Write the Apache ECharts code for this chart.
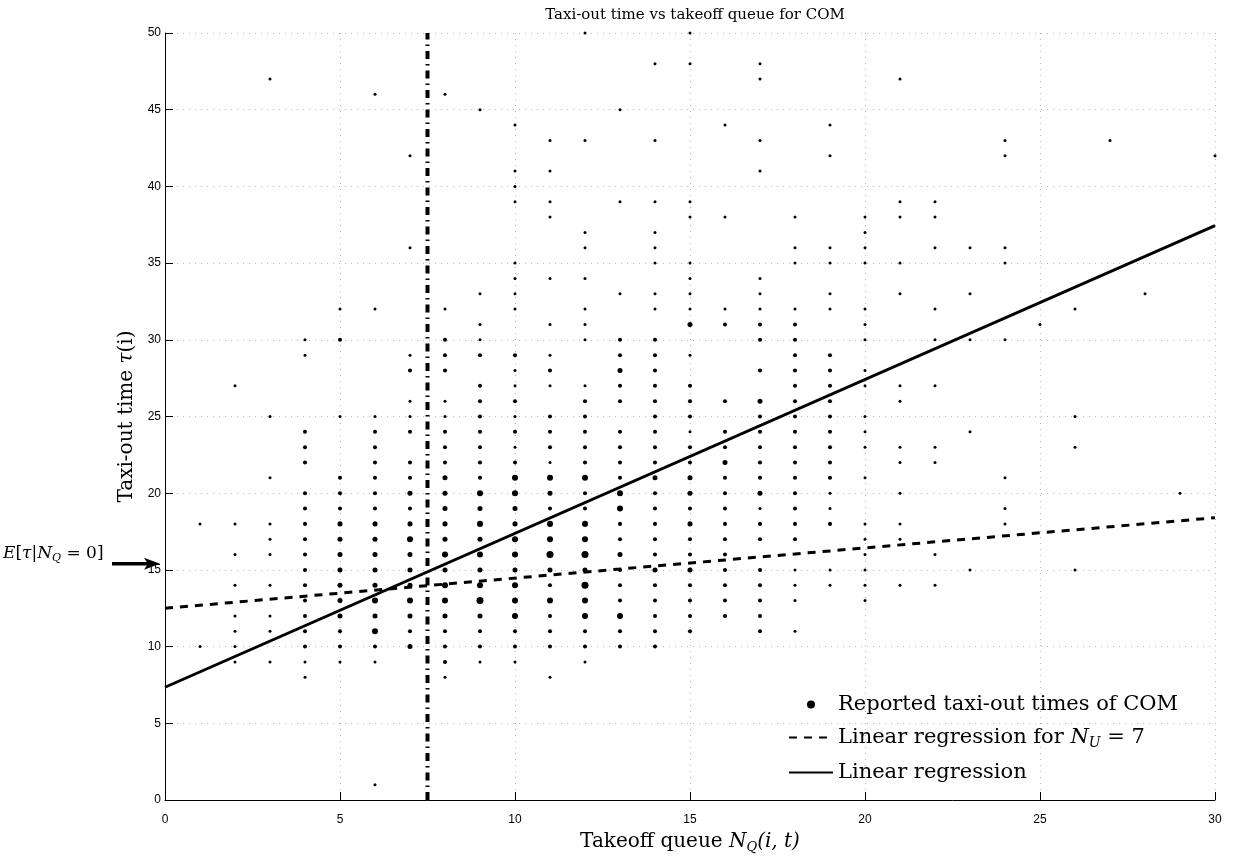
<!DOCTYPE html>
<html>
<head>
<meta charset="utf-8">
<script src="https://cdn.jsdelivr.net/npm/echarts@6/dist/echarts.min.js"></script>
<style>
html, body { margin: 0; padding: 0; background: #fff; }
#chart { width: 1233px; height: 859px; }
</style>
</head>
<body>
<div id="chart"></div>
<script>
// reported taxi-out times: [takeoff queue, taxi-out time (min), number of flights]
const reported = [
  [1, 18, 1], [1, 10, 1],
  [2, 27, 1], [2, 18, 1], [2, 16, 1], [2, 14, 1], [2, 12, 1], [2, 11, 1], [2, 10, 1], [2, 9, 1],
  [3, 47, 1], [3, 25, 1], [3, 21, 1], [3, 18, 1], [3, 17, 1], [3, 16, 1], [3, 14, 1], [3, 12, 1], [3, 11, 1], [3, 9, 1],
  [4, 30, 1], [4, 29, 1], [4, 24, 3], [4, 23, 3], [4, 22, 3], [4, 20, 3], [4, 19, 3], [4, 18, 3], [4, 17, 3],
  [4, 16, 3], [4, 15, 3], [4, 14, 3], [4, 13, 3], [4, 12, 3], [4, 11, 3], [4, 10, 3], [4, 9, 1], [4, 8, 1],
  [5, 32, 1], [5, 30, 3], [5, 25, 1], [5, 21, 3], [5, 20, 3], [5, 19, 3], [5, 18, 6], [5, 17, 6], [5, 16, 6],
  [5, 15, 6], [5, 14, 6], [5, 13, 6], [5, 12, 6], [5, 11, 3], [5, 10, 3], [5, 9, 1],
  [6, 46, 1], [6, 32, 1], [6, 25, 1], [6, 24, 3], [6, 23, 3], [6, 22, 3], [6, 21, 3], [6, 20, 3], [6, 19, 3],
  [6, 18, 6], [6, 17, 6], [6, 16, 6], [6, 15, 6], [6, 14, 6], [6, 13, 10], [6, 12, 6], [6, 11, 10], [6, 10, 3],
  [6, 9, 1], [6, 1, 1],
  [7, 42, 1], [7, 36, 1], [7, 29, 1], [7, 28, 3], [7, 26, 1], [7, 25, 1], [7, 24, 3], [7, 22, 3], [7, 21, 3],
  [7, 20, 6], [7, 19, 3], [7, 18, 6], [7, 17, 10], [7, 16, 6], [7, 15, 6], [7, 14, 6], [7, 13, 10], [7, 12, 6],
  [7, 11, 3], [7, 10, 6],
  [8, 46, 1], [8, 32, 1], [8, 30, 3], [8, 29, 3], [8, 28, 3], [8, 26, 1], [8, 25, 1], [8, 24, 3], [8, 23, 3],
  [8, 22, 3], [8, 21, 6], [8, 20, 6], [8, 19, 6], [8, 18, 6], [8, 17, 6], [8, 16, 10], [8, 15, 6], [8, 14, 10],
  [8, 13, 10], [8, 12, 6], [8, 11, 3], [8, 10, 3], [8, 9, 3], [8, 8, 1],
  [9, 45, 1], [9, 33, 1], [9, 31, 1], [9, 30, 1], [9, 29, 3], [9, 27, 3], [9, 26, 3], [9, 25, 3], [9, 24, 3],
  [9, 23, 3], [9, 22, 3], [9, 21, 3], [9, 20, 10], [9, 19, 6], [9, 18, 10], [9, 17, 6], [9, 16, 10], [9, 15, 6],
  [9, 14, 10], [9, 13, 15], [9, 12, 6], [9, 11, 3], [9, 10, 3], [9, 9, 1],
  [10, 44, 1], [10, 41, 1], [10, 40, 1], [10, 39, 1], [10, 35, 1], [10, 34, 1], [10, 33, 1], [10, 32, 1],
  [10, 29, 3], [10, 28, 1], [10, 27, 1], [10, 26, 3], [10, 25, 1], [10, 24, 3], [10, 23, 1], [10, 22, 3],
  [10, 21, 10], [10, 20, 10], [10, 19, 6], [10, 18, 6], [10, 17, 10], [10, 16, 10], [10, 15, 6], [10, 14, 10],
  [10, 13, 10], [10, 12, 10], [10, 11, 3], [10, 10, 3], [10, 9, 1],
  [11, 43, 1], [11, 41, 1], [11, 39, 1], [11, 38, 1], [11, 34, 1], [11, 31, 1], [11, 29, 1], [11, 28, 3],
  [11, 27, 1], [11, 25, 3], [11, 24, 3], [11, 23, 3], [11, 22, 1], [11, 21, 10], [11, 20, 6], [11, 19, 3],
  [11, 18, 10], [11, 17, 10], [11, 16, 15], [11, 15, 6], [11, 14, 3], [11, 13, 10], [11, 12, 3], [11, 11, 3],
  [11, 10, 3], [11, 8, 1],
  [12, 50, 1], [12, 43, 1], [12, 37, 1], [12, 36, 1], [12, 34, 1], [12, 32, 1], [12, 31, 1], [12, 30, 1],
  [12, 27, 1], [12, 26, 3], [12, 25, 3], [12, 24, 3], [12, 23, 3], [12, 22, 3], [12, 21, 10], [12, 20, 3],
  [12, 19, 3], [12, 18, 10], [12, 17, 10], [12, 16, 15], [12, 15, 6], [12, 14, 15], [12, 13, 10], [12, 12, 10],
  [12, 11, 3], [12, 10, 3], [12, 9, 1],
  [13, 45, 1], [13, 39, 1], [13, 33, 1], [13, 30, 3], [13, 29, 3], [13, 28, 6], [13, 27, 3], [13, 26, 3],
  [13, 24, 3], [13, 23, 3], [13, 22, 3], [13, 21, 3], [13, 20, 10], [13, 19, 10], [13, 18, 3], [13, 17, 3],
  [13, 16, 6], [13, 15, 3], [13, 14, 3], [13, 13, 3], [13, 12, 10], [13, 11, 3], [13, 10, 3],
  [14, 48, 1], [14, 43, 1], [14, 39, 1], [14, 37, 1], [14, 36, 1], [14, 35, 1], [14, 33, 1], [14, 32, 1],
  [14, 30, 3], [14, 29, 3], [14, 28, 3], [14, 27, 3], [14, 26, 3], [14, 25, 3], [14, 24, 3], [14, 23, 3],
  [14, 22, 3], [14, 21, 6], [14, 20, 3], [14, 19, 3], [14, 18, 3], [14, 17, 3], [14, 16, 3], [14, 15, 6],
  [14, 14, 3], [14, 13, 3], [14, 12, 3], [14, 11, 3], [14, 10, 3],
  [15, 50, 1], [15, 48, 1], [15, 39, 1], [15, 38, 1], [15, 35, 1], [15, 34, 1], [15, 33, 1], [15, 32, 1],
  [15, 31, 6], [15, 29, 1], [15, 27, 3], [15, 26, 3], [15, 25, 3], [15, 24, 1], [15, 23, 3], [15, 22, 3],
  [15, 21, 6], [15, 20, 6], [15, 19, 3], [15, 18, 6], [15, 17, 3], [15, 16, 3], [15, 15, 6], [15, 14, 3],
  [15, 13, 3], [15, 12, 3], [15, 11, 3],
  [16, 44, 1], [16, 38, 1], [16, 32, 1], [16, 31, 3], [16, 26, 3], [16, 24, 3], [16, 23, 3], [16, 22, 6],
  [16, 21, 3], [16, 20, 3], [16, 19, 3], [16, 18, 3], [16, 17, 3], [16, 16, 3], [16, 15, 3], [16, 14, 3],
  [16, 13, 3], [16, 12, 3],
  [17, 48, 1], [17, 47, 1], [17, 43, 1], [17, 41, 1], [17, 34, 1], [17, 33, 1], [17, 32, 1], [17, 31, 3],
  [17, 30, 3], [17, 28, 3], [17, 26, 6], [17, 25, 3], [17, 24, 3], [17, 23, 3], [17, 22, 3], [17, 21, 3],
  [17, 20, 6], [17, 19, 1], [17, 18, 3], [17, 17, 3], [17, 15, 3], [17, 14, 3], [17, 13, 3], [17, 12, 3],
  [17, 11, 3],
  [18, 38, 1], [18, 36, 1], [18, 35, 1], [18, 32, 1], [18, 31, 3], [18, 30, 3], [18, 29, 3], [18, 28, 3],
  [18, 27, 3], [18, 26, 3], [18, 25, 3], [18, 24, 3], [18, 23, 3], [18, 22, 3], [18, 21, 3], [18, 20, 3],
  [18, 19, 3], [18, 18, 3], [18, 17, 3], [18, 15, 1], [18, 14, 1], [18, 13, 1], [18, 11, 1],
  [19, 44, 1], [19, 42, 1], [19, 36, 1], [19, 35, 1], [19, 33, 1], [19, 32, 1], [19, 29, 3], [19, 28, 3],
  [19, 27, 3], [19, 26, 3], [19, 25, 3], [19, 24, 3], [19, 23, 3], [19, 22, 3], [19, 21, 3], [19, 20, 1],
  [19, 19, 1], [19, 18, 3], [19, 15, 1], [19, 14, 1],
  [20, 38, 1], [20, 37, 1], [20, 36, 1], [20, 35, 1], [20, 32, 1], [20, 31, 1], [20, 30, 1], [20, 28, 1],
  [20, 27, 1], [20, 25, 1], [20, 24, 1], [20, 23, 1], [20, 21, 1], [20, 18, 1], [20, 17, 1], [20, 16, 1],
  [20, 15, 1], [20, 14, 1], [20, 13, 1],
  [21, 47, 1], [21, 39, 1], [21, 38, 1], [21, 35, 1], [21, 33, 1], [21, 27, 1], [21, 26, 1], [21, 23, 1],
  [21, 22, 1], [21, 20, 1], [21, 18, 1], [21, 17, 1], [21, 14, 1],
  [22, 39, 1], [22, 38, 1], [22, 36, 1], [22, 32, 1], [22, 30, 1], [22, 27, 1], [22, 23, 1], [22, 22, 1],
  [22, 16, 1], [22, 14, 1],
  [23, 36, 1], [23, 33, 1], [23, 30, 1], [23, 24, 1], [23, 15, 1],
  [24, 43, 1], [24, 42, 1], [24, 36, 1], [24, 35, 1], [24, 30, 1], [24, 21, 1], [24, 19, 1], [24, 18, 1],
  [25, 31, 1],
  [26, 32, 1], [26, 25, 1], [26, 23, 1], [26, 15, 1],
  [27, 43, 1], [28, 33, 1], [29, 20, 1], [30, 42, 1]
];

// fitted lines, read at the two ends of the axis
const fitU7 = [[0, 12.5], [30, 18.4]];
const fitAll = [[0, 7.35], [30, 37.45]];
// vertical marker at N_Q = 7.5
const queueMark = [[7.5, 0], [7.5, 50]];

const names = ['Reported taxi-out times of COM', 'Linear regression for N_U = 7', 'Linear regression'];

const serif = 'DejaVu Serif';
const sans = 'Liberation Sans';
const noSymbol = { color: 'rgba(0,0,0,0)', borderWidth: 0 };

const myChart = echarts.init(document.getElementById('chart'));

const option = {
  animation: false,
  backgroundColor: '#fff',
  title: {
    text: 'Taxi-out time vs takeoff queue for COM',
    left: 690,
    textAlign: 'center',
    top: 3,
    textStyle: { fontFamily: serif, fontSize: 15, fontWeight: 'normal', color: '#000' }
  },
  grid: { left: 165, right: 18, top: 33, bottom: 52 },
  legend: {
    orient: 'vertical',
    left: 783,
    top: 689,
    itemWidth: 44,
    itemHeight: 8,
    itemGap: 12,
    data: [
      { name: names[0] },
      { name: names[1], itemStyle: noSymbol },
      { name: names[2], itemStyle: noSymbol }
    ],
    textStyle: {
      fontFamily: serif, fontSize: 21, color: '#000',
      rich: {
        it: { fontFamily: serif, fontSize: 21, fontStyle: 'italic', color: '#000' },
        sub: { fontFamily: serif, fontSize: 14, fontStyle: 'italic', color: '#000', padding: [11, 0, 0, 0] }
      }
    },
    formatter: function (name) {
      if (name === names[1]) return 'Linear regression for {it|N}{sub|U} = 7';
      return name;
    }
  },
  xAxis: {
    type: 'value',
    min: 0, max: 30, interval: 5,
    name: 'Takeoff queue {it|N}{sub|Q}{it|(i, t)}',
    nameLocation: 'middle',
    nameGap: 30,
    nameTextStyle: {
      fontFamily: serif, fontSize: 20, color: '#000',
      rich: {
        it: { fontFamily: serif, fontSize: 20, fontStyle: 'italic', color: '#000' },
        sub: { fontFamily: serif, fontSize: 13, fontStyle: 'italic', color: '#000', padding: [11, 0, 0, 0] }
      }
    },
    axisLine: { onZero: false, lineStyle: { color: '#000', width: 1 } },
    axisTick: { inside: true, length: 8, lineStyle: { color: '#000' } },
    axisLabel: { fontFamily: sans, fontSize: 12, color: '#000', margin: 14 },
    splitLine: { show: true, lineStyle: { color: '#b4b4b4', type: [1, 5], width: 1 } }
  },
  yAxis: {
    type: 'value',
    min: 0, max: 50, interval: 5,
    name: 'Taxi-out time {it|τ}(i)',
    nameLocation: 'middle',
    nameGap: 28,
    nameTextStyle: {
      fontFamily: serif, fontSize: 20, color: '#000',
      rich: {
        it: { fontFamily: serif, fontSize: 20, fontStyle: 'italic', color: '#000' }
      }
    },
    axisLine: { onZero: false, lineStyle: { color: '#000', width: 1 } },
    axisTick: { inside: true, length: 8, lineStyle: { color: '#000' } },
    axisLabel: { fontFamily: sans, fontSize: 12, color: '#000', margin: 4 },
    splitLine: { show: true, lineStyle: { color: '#b4b4b4', type: [1, 5], width: 1 } }
  },
  series: [
    {
      name: names[0],
      type: 'scatter',
      data: reported,
      symbol: 'circle',
      symbolSize: function (v) { return 1.6 + 1.4 * Math.sqrt(v[2]); },
      itemStyle: { color: '#000', opacity: 1 },
      z: 2
    },
    {
      name: names[1],
      type: 'line',
      data: fitU7,
      symbol: 'none',
      lineStyle: { color: '#000', width: 3, type: [8, 7] },
      itemStyle: { color: '#000' },
      z: 3
    },
    {
      name: names[2],
      type: 'line',
      data: fitAll,
      symbol: 'none',
      lineStyle: { color: '#000', width: 3 },
      itemStyle: { color: '#000' },
      z: 3
    },
    {
      name: 'queue marker',
      type: 'line',
      data: queueMark,
      symbol: 'none',
      lineStyle: { color: '#000', width: 4, type: [8, 5, 1.5, 5] },
      z: 4
    }
  ]
};

myChart.setOption(option);

// annotation pointing at the expected taxi-out time with an empty queue
const yTip = myChart.convertToPixel({ yAxisIndex: 0 }, 15.4);
const xTip = myChart.convertToPixel({ xAxisIndex: 0 }, 0);
myChart.setOption({
  graphic: [
    {
      type: 'text',
      left: 3,
      top: yTip - 19,
      style: {
        text: '{it|E}[{it|τ}|{it|N}{sub|Q} = 0]',
        fill: '#000',
        rich: {
          it: { fontFamily: serif, fontSize: 17, fontStyle: 'italic', fill: '#000' },
          sub: { fontFamily: serif, fontSize: 11, fontStyle: 'italic', fill: '#000', padding: [10, 0, 0, 0] }
        },
        font: '17px "DejaVu Serif"'
      }
    },
    {
      type: 'line',
      shape: { x1: xTip - 53, y1: yTip, x2: xTip - 14, y2: yTip },
      style: { stroke: '#000', lineWidth: 3.5 }
    },
    {
      type: 'polygon',
      shape: { points: [[xTip - 5, yTip], [xTip - 21, yTip - 6], [xTip - 17, yTip], [xTip - 21, yTip + 6]] },
      style: { fill: '#000' }
    }
  ]
});
</script>
</body>
</html>
